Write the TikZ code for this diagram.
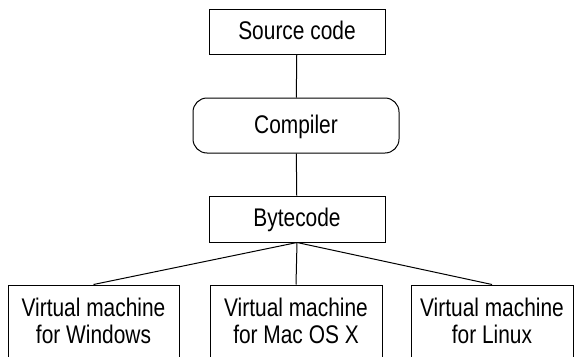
\documentclass[tikz,border=0pt]{standalone}
\usepackage{fontspec}
\setmainfont{Liberation Sans}[FakeStretch=0.82]
\begin{document}
\begin{tikzpicture}[x=1pt,y=-1pt,
  every node/.style={font=\fontsize{25.5}{27}\selectfont, inner sep=0pt, line width=1pt},
  box/.style={draw, text height=15pt, text depth=0pt},
  roundbox/.style={draw, rounded corners=14pt, text height=15pt, text depth=0pt},
  vmbox/.style={draw, align=center, minimum height=72pt},
  link/.style={line width=1pt}]
\useasboundingbox (0,0) rectangle (575,356);
\node[box, minimum width=176pt, minimum height=45pt] (src) at (297,31.5) {Source code};
\node[roundbox, minimum width=206pt, minimum height=55pt] (comp) at (296,125.5) {Compiler};
\node[box, minimum width=176pt, minimum height=46pt] (byte) at (297,219) {Bytecode};
\node[vmbox, minimum width=171pt] (vmw) at (93.5,321) {Virtual machine\\for Windows};
\node[vmbox, minimum width=172pt] (vmm) at (296,321) {Virtual machine\\for Mac OS X};
\node[vmbox, minimum width=162pt] (vml) at (492,321) {Virtual machine\\for Linux};
\draw[link] (src) -- (comp);
\draw[link] (comp) -- (byte);
\draw[link] (byte.south) -- (vmw.north);
\draw[link] (byte.south) -- (vmm.north);
\draw[link] (byte.south) -- (vml.north);
\end{tikzpicture}
\end{document}
